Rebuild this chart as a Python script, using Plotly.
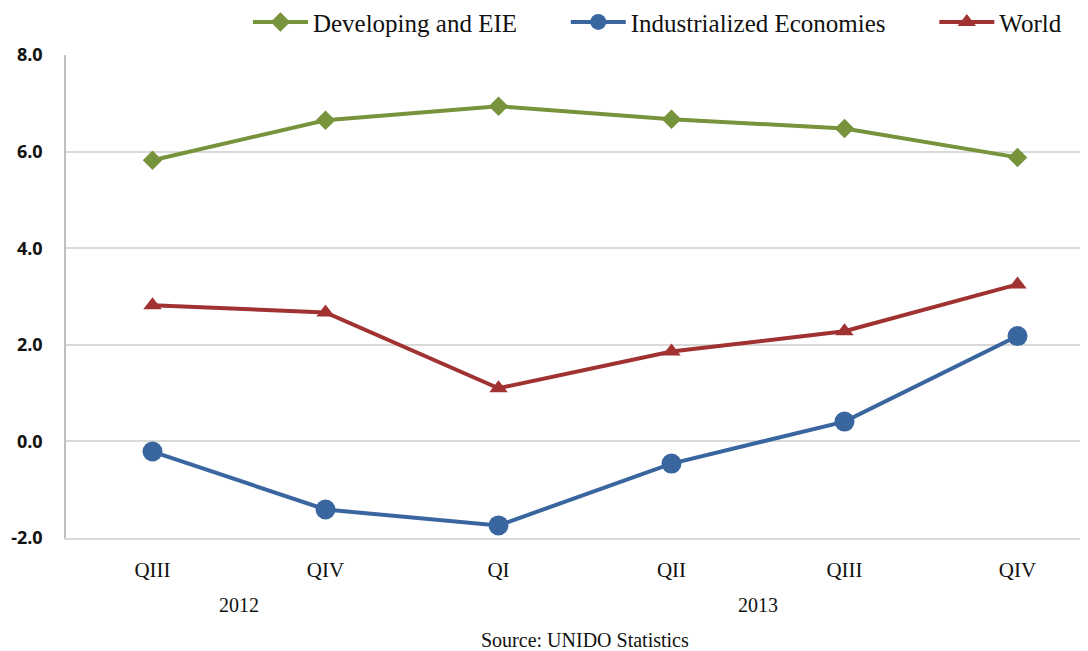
import plotly.graph_objects as go

quarters = ["QIII", "QIV", "QI", "QII", "QIII", "QIV"]
years = ["2012", "2013"]
series_names = ["Developing and EIE", "Industrialized Economies", "World"]
developing = [5.82, 6.65, 6.94, 6.67, 6.48, 5.88]
industrialized = [-0.21, -1.41, -1.74, -0.46, 0.41, 2.18]
world = [2.82, 2.67, 1.10, 1.86, 2.28, 3.25]
y_ticks = [-2, 0, 2, 4, 6, 8]

xs = list(range(len(quarters)))
pad = "\u00a0" * 7

fig = go.Figure()
fig.add_trace(go.Scatter(x=xs, y=developing, name=series_names[0] + pad, mode="lines+markers",
                         line=dict(color="#77933C", width=4),
                         marker=dict(symbol="diamond", size=15, color="#77933C")))
fig.add_trace(go.Scatter(x=xs, y=industrialized, name=series_names[1] + pad, mode="lines+markers",
                         line=dict(color="#3A66A0", width=4),
                         marker=dict(symbol="circle", size=20, color="#3A66A0")))
fig.add_trace(go.Scatter(x=xs, y=world, name=series_names[2], mode="lines+markers",
                         line=dict(color="#A03232", width=4),
                         marker=dict(symbol="triangle-up", size=16, color="#A03232")))

fig.update_layout(
    width=1080, height=643,
    margin=dict(l=58, r=0, t=47, b=113, autoexpand=False),
    plot_bgcolor="white", paper_bgcolor="white",
    showlegend=True,
    legend=dict(orientation="h", x=0.178, xanchor="left", y=1.068, yanchor="middle",
                font=dict(family="Liberation Serif", size=25, color="#111"),
                itemwidth=55, traceorder="normal"),
    xaxis=dict(tickmode="array", tickvals=xs, ticktext=quarters,
               range=[-0.5, -0.5 + 1022 / 173.0],
               showgrid=False, zeroline=False, showline=True, linecolor="#D9D9D9",
               linewidth=1.5, ticks="",
               tickfont=dict(family="Liberation Serif", size=21, color="#111"),
               ticklabelstandoff=12),
    yaxis=dict(range=[-2, 8], tickmode="array", tickvals=y_ticks,
               ticktext=[f"{v:.1f}" for v in y_ticks],
               showgrid=True, gridcolor="#D9D9D9", gridwidth=1.5,
               zeroline=False, showline=True, linecolor="#BFBFBF", linewidth=1.5,
               tickfont=dict(family="Open Sans", size=18, color="#111", weight="bold"),
               ticklabelstandoff=18),
)

fig.add_annotation(x=0.5, y=-0.139, xref="x", yref="paper", yanchor="middle", text=years[0],
                   showarrow=False, font=dict(family="Liberation Serif", size=20, color="#111"))
fig.add_annotation(x=3.5, y=-0.139, xref="x", yref="paper", yanchor="middle", text=years[1],
                   showarrow=False, font=dict(family="Liberation Serif", size=20, color="#111"))
fig.add_annotation(x=0.508, y=-0.211, xref="paper", yref="paper", yanchor="middle",
                   text="Source: UNIDO Statistics",
                   showarrow=False, font=dict(family="Liberation Serif", size=20, color="#111"))

fig.write_html("out.html")
